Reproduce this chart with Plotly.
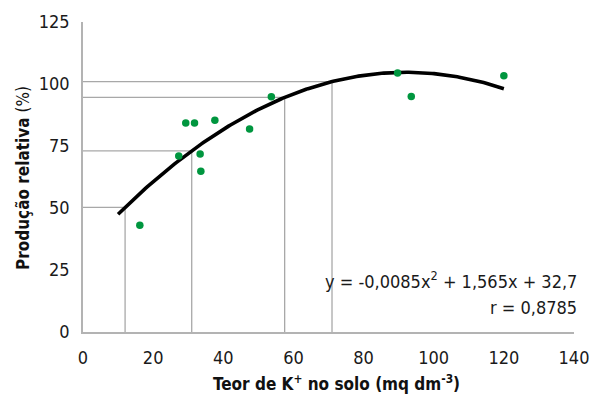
import plotly.graph_objects as go
import numpy as np

# Observed data points
k_solo = [16.2, 27.3, 29.3, 31.8, 33.4, 33.6, 37.6, 47.5, 53.7, 89.7, 93.6, 120.0]
producao = [43.0, 71.0, 84.3, 84.3, 71.8, 64.8, 85.4, 81.9, 94.9, 104.4, 95.0, 103.3]

# Fitted quadratic: y = a x^2 + b x + c
coef = [-0.0085, 1.565, 32.7]
curve_x_range = [10, 120]

# Reference (critical level) lines: x positions
ref_x = [12, 31, 57.5, 71]

x_ticks = [0, 20, 40, 60, 80, 100, 120, 140]
y_ticks = [0, 25, 50, 75, 100, 125]

FONT = "DejaVu Sans Condensed, Liberation Sans Narrow, sans-serif"

def f(x):
    return coef[0] * x**2 + coef[1] * x + coef[2]

fig = go.Figure()

# reference lines
lx, ly = [], []
for xv in ref_x:
    yv = f(xv)
    lx += [xv, xv, None, 0, xv, None]
    ly += [0, yv, None, yv, yv, None]
fig.add_trace(go.Scatter(x=lx, y=ly, mode="lines",
                         line=dict(color="#a8a8a8", width=1.3),
                         hoverinfo="skip", showlegend=False))

# fitted curve
cx = np.linspace(curve_x_range[0], curve_x_range[1], 200)
fig.add_trace(go.Scatter(x=cx, y=f(cx), mode="lines",
                         line=dict(color="black", width=3.6),
                         showlegend=False))

# points
fig.add_trace(go.Scatter(x=k_solo, y=producao, mode="markers",
                         marker=dict(color="#00963f", size=7.5),
                         showlegend=False))

axis_common = dict(showgrid=False, zeroline=False, showline=True,
                   linecolor="#b3b3b3", linewidth=1.5, ticks="",
                   automargin=False,
                   tickfont=dict(family=FONT, size=18, color="#1a1a1a"))

fig.update_xaxes(range=[0, 140], tickvals=x_ticks, ticklabelstandoff=9,
                 **axis_common)
fig.update_yaxes(range=[0, 125], tickvals=y_ticks, ticklabelstandoff=8,
                 **axis_common)

fig.add_annotation(text="<b>Teor de K<sup>+</sup> no solo (mq dm<sup>-3</sup>)</b>",
                   xref="paper", yref="paper", x=0.517, y=-0.165,
                   xanchor="center", yanchor="middle", showarrow=False,
                   font=dict(family=FONT, size=17, color="#111"))
fig.add_annotation(text="<b>Produção relativa</b> (%)",
                   xref="paper", yref="paper", x=-0.122, y=0.497,
                   xanchor="center", yanchor="middle", showarrow=False,
                   textangle=-90,
                   font=dict(family=FONT, size=17, color="#111"))
fig.add_annotation(text="y = -0,0085x<sup>2</sup> + 1,565x + 32,7",
                   xref="paper", yref="y", x=1.01, y=21,
                   xanchor="right", yanchor="middle", showarrow=False,
                   font=dict(family=FONT, size=18, color="#1a1a1a"))
fig.add_annotation(text="r = 0,8785",
                   xref="paper", yref="y", x=1.01, y=9.7,
                   xanchor="right", yanchor="middle", showarrow=False,
                   font=dict(family=FONT, size=18, color="#1a1a1a"))

fig.update_layout(width=590, height=396,
                  margin=dict(l=83, r=16, t=22, b=64),
                  plot_bgcolor="white", paper_bgcolor="white",
                  showlegend=False)

fig.write_html("out.html")
